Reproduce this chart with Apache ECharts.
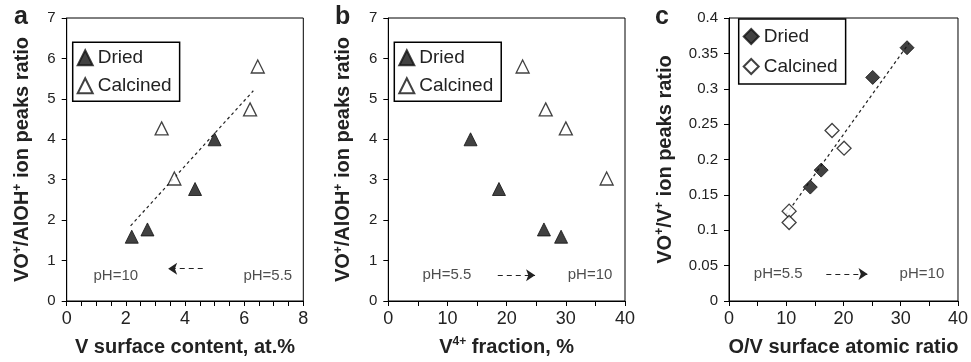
<!DOCTYPE html>
<html><head><meta charset="utf-8">
<script src="https://cdn.jsdelivr.net/npm/echarts@6/dist/echarts.min.js"></script>
<style>html,body{margin:0;padding:0;background:#fff}#c{width:971px;height:362px}</style>
</head><body><div id="c"></div><script>
// Panel a: V surface content vs VO+/AlOH+
const aDried = [[2.20,1.59],[2.73,1.77],[4.34,2.77],[5.00,4.00]];
const aCalcined = [[3.21,4.27],[3.64,3.03],[6.20,4.74],[6.46,5.80]];
const aTrend = [[2.16,1.86],[6.31,5.20]];
const aArrow = [[4.60,0.80],[3.43,0.80]];
const aNotes = [['pH=10',1.66,0.63],['pH=5.5',6.80,0.63]];
// Panel b: V4+ fraction vs VO+/AlOH+
const bDried = [[13.9,4.00],[18.7,2.77],[26.3,1.77],[29.2,1.59]];
const bCalcined = [[22.7,5.80],[26.6,4.74],[30.0,4.27],[36.9,3.03]];
const bArrow = [[18.5,0.64],[24.8,0.64]];
const bNotes = [['pH=5.5',9.9,0.64],['pH=10',34.1,0.64]];
// Panel c: O/V surface atomic ratio vs VO+/V+
const cDried = [[14.2,0.161],[16.1,0.185],[25.1,0.316],[31.1,0.358]];
const cCalcined = [[10.5,0.127],[10.5,0.111],[18.0,0.241],[20.1,0.216]];
const cTrend = [[9.9,0.1215],[31.4,0.364]];
const cArrow = [[17.0,0.038],[24.2,0.038]];
const cNotes = [['pH=5.5',8.6,0.038],['pH=10',33.7,0.038]];

const xMax = [8,40,40], xInterval = [2,10,10], xMinorSplit = [4,2,2];
const yMax = [7,7,0.4], yInterval = [1,1,0.05];
const panelLetters = ['a','b','c'];

const INK = '#222';
const FONT = '"Liberation Sans", Arial, sans-serif';
const rich = {
  n:{fontSize:20,fontWeight:'bold',color:INK,fontFamily:FONT,lineHeight:22},
  s:{fontSize:12,fontWeight:'bold',color:INK,fontFamily:FONT,verticalAlign:'top',lineHeight:22}
};
const xNames = ['{n|V surface content, at.%}','{n|V}{s|4+}{n| fraction, %}','{n|O/V surface atomic ratio}'];
const yNames = ['{n|VO}{s|+}{n|/AlOH}{s|+}{n| ion peaks ratio}','{n|VO}{s|+}{n|/AlOH}{s|+}{n| ion peaks ratio}','{n|VO}{s|+}{n|/V}{s|+}{n| ion peaks ratio}'];
const yGaps = [33,34,53];

const grids = [
  {left:66.7,top:18,width:236.6,height:283},
  {left:388.3,top:18,width:236.7,height:283},
  {left:729,top:18,width:232.7,height:283}
].map(g=>Object.assign(g,{show:true,borderColor:'#000',borderWidth:1,backgroundColor:'transparent'}));

const axisLineStyle = {lineStyle:{color:'#000',width:1}};
const xAxes = [0,1,2].map(i=>({
  type:'value',gridIndex:i,min:0,max:xMax[i],interval:xInterval[i],
  axisLine:Object.assign({show:true,onZero:false},axisLineStyle),
  axisTick:{show:true,length:5,lineStyle:{color:'#000'}},
  minorTick:{show:true,splitNumber:xMinorSplit[i],length:5,lineStyle:{color:'#000'}},
  splitLine:{show:false},
  axisLabel:{fontSize:18,color:INK,fontFamily:FONT,margin:9},
  name:xNames[i],nameLocation:'middle',nameGap:35,
  nameTextStyle:{rich:rich}
}));
const yAxes = [0,1,2].map(i=>({
  type:'value',gridIndex:i,min:0,max:yMax[i],interval:yInterval[i],
  axisLine:Object.assign({show:true,onZero:false},axisLineStyle),
  axisTick:{show:true,length:5,lineStyle:{color:'#000'}},
  splitLine:{show:false},
  axisLabel:{fontSize:15,color:INK,fontFamily:FONT,margin:11},
  name:yNames[i],nameLocation:'middle',nameGap:yGaps[i],nameRotate:90,
  nameTextStyle:{rich:rich}
}));

const filled = {color:'#111',borderColor:'#111',borderWidth:1};
const hollow = {color:'#fff',borderColor:'#111',borderWidth:1.3};
function scatter(name,data,i,symbol,style,size){
  return {name:name,type:'scatter',xAxisIndex:i,yAxisIndex:i,data:data,symbol:symbol,symbolSize:size,itemStyle:style,z:5,silent:true};
}
function trend(data,i){
  return {type:'line',xAxisIndex:i,yAxisIndex:i,data:data,symbol:'none',silent:true,z:2,
    lineStyle:{color:INK,width:1.2,type:[3,3]}};
}
function notes(arr,arrow,i){
  return {type:'scatter',xAxisIndex:i,yAxisIndex:i,symbolSize:1,silent:true,
    itemStyle:{color:'transparent'},
    data:arr.map(a=>({name:a[0],value:[a[1],a[2]]})),
    label:{show:true,position:'inside',formatter:'{b}',fontSize:15,color:INK,fontFamily:FONT},
    markLine:{silent:true,symbol:['none','arrow'],symbolSize:9,animation:false,
      label:{show:false},
      lineStyle:{color:INK,width:1.2,type:[5,4]},
      data:[[{coord:arrow[0]},{coord:arrow[1]}]]}};
}

const series = [
  trend(aTrend,0),
  scatter('Dried',aDried,0,'triangle',filled,13),
  scatter('Calcined',aCalcined,0,'triangle',hollow,13),
  notes(aNotes,aArrow,0),
  scatter('Dried',bDried,1,'triangle',filled,13),
  scatter('Calcined',bCalcined,1,'triangle',hollow,13),
  notes(bNotes,bArrow,1),
  trend(cTrend,2),
  scatter('Dried',cDried,2,'diamond',filled,14),
  scatter('Calcined',cCalcined,2,'diamond',hollow,14),
  notes(cNotes,cArrow,2)
];

function legend(left,top,icon,gap,pad){
  return {left:left,top:top,orient:'vertical',itemGap:gap,itemWidth:15,itemHeight:15,
    padding:[pad,8,pad,4],borderColor:'#000',borderWidth:1.5,selectedMode:false,
    textStyle:{fontSize:19,color:INK,fontFamily:FONT},
    data:[{name:'Dried',icon:icon},{name:'Calcined',icon:icon}]};
}

const titles = [[9,0],[330,0],[650,0]].map((p,i)=>({text:panelLetters[i],left:p[0],top:p[1],
  textStyle:{fontSize:25,fontWeight:'bold',color:INK,fontFamily:FONT}}));

const chart = echarts.init(document.getElementById('c'),null,{renderer:'canvas'});
chart.setOption({
  animation:false,
  backgroundColor:'#fff',
  title:titles,
  grid:grids,
  xAxis:xAxes,
  yAxis:yAxes,
  legend:[legend(72.7,42.3,'triangle',9,6),legend(394.3,42.3,'triangle',9,6),legend(738.7,19,'diamond',11,8)],
  series:series
});
</script></body></html>
